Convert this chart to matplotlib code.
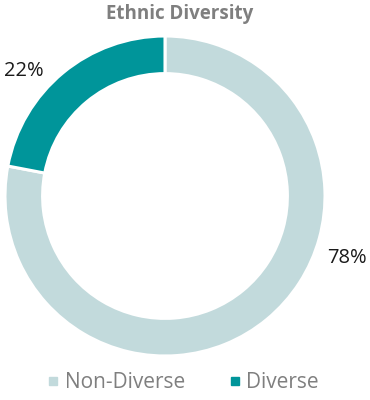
import matplotlib
matplotlib.use("Agg")
import matplotlib.pyplot as plt
from matplotlib.lines import Line2D

labels = ["Non-Diverse", "Diverse"]
values = [78, 22]
colors = ["#c2dadc", "#00959a"]

plt.rcParams["font.family"] = ["Open Sans", "DejaVu Sans"]

fig = plt.figure(figsize=(3.7, 4.0), dpi=100)
ax = fig.add_axes([5 / 370, (400 - 356) / 400, 320 / 370, 320 / 400])

wedges, _ = ax.pie(values, colors=colors, startangle=90, counterclock=False,
                   radius=1.0, wedgeprops=dict(width=0.235, edgecolor="white", linewidth=2.2))
ax.set_xlim(-1, 1)
ax.set_ylim(-1, 1)
ax.set_aspect("equal")
ax.axis("off")

# percentage labels, placed like the Excel "best fit" layout
ax.text(1.14, -0.39, "{}%".format(values[0]), ha="center", va="center",
        fontsize=14.5, color="#1a1a1a")
ax.text(-0.885, 0.78, "{}%".format(values[1]), ha="center", va="center",
        fontsize=14.5, color="#1a1a1a")

fig.text(180 / 370, 1 - 14 / 400, "Ethnic Diversity", ha="center", va="center",
         fontsize=13.5, fontweight="bold", color="#7f7f7f")

handles = [Line2D([0], [0], marker="s", linestyle="none", markersize=6,
                  markerfacecolor=c, markeredgecolor=c) for c in colors]
fig.legend(handles, labels, loc="center", bbox_to_anchor=(181 / 370, 1 - 383 / 400),
           ncol=2, frameon=False, fontsize=15, labelcolor="#7f7f7f",
           handletextpad=0.05, columnspacing=1.9, handlelength=1.0)

fig.savefig("out.png", dpi=100)
